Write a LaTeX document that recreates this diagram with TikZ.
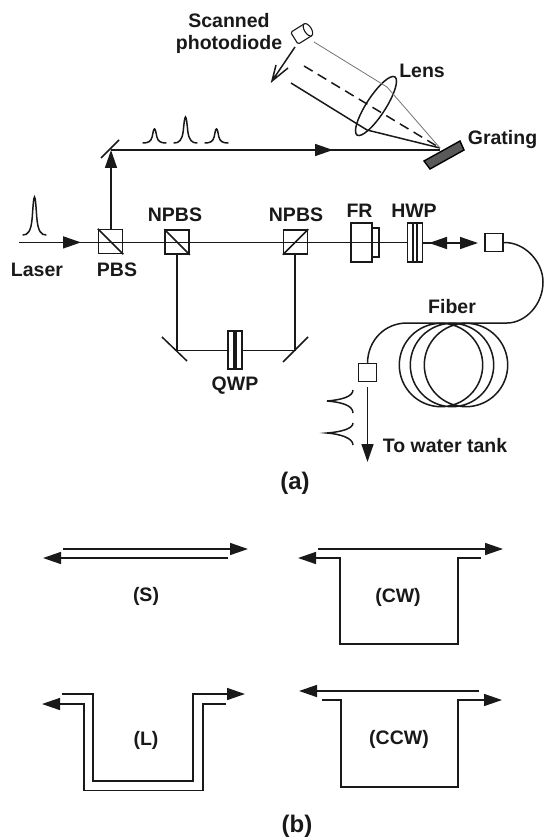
\documentclass[tikz,border=0pt]{standalone}
\usepackage{fontspec}
\setmainfont{Liberation Sans}
\usetikzlibrary{arrows.meta}
\tikzset{
 ln/.style={line width=1.5pt,black!90},
 thinln/.style={line width=1.1pt,black!90},
 arr/.style={ln,-{Triangle[length=18pt,width=12pt]}},
 lab/.style={font=\bfseries\fontsize{19.5}{22}\selectfont,inner sep=0pt,text=black!90},
 biglab/.style={font=\bfseries\fontsize{24}{26}\selectfont,inner sep=0pt,text=black!90},
 cube/.style={ln,draw,minimum width=24pt,minimum height=24pt,inner sep=0pt},
 sq/.style={ln,draw,minimum width=18pt,minimum height=18pt,inner sep=0pt},
}
\newcommand{\pulse}[3]{% left x, baseline y, height
 \begin{scope}[shift={(#1,#2)},yscale=#3]
 \draw[ln,line cap=round] (0,0) .. controls (5,0) and (8,-0.1) .. (9.2,-0.45) .. controls (10,-0.75) and (10.6,-1) .. (11.5,-1) .. controls (12.4,-1) and (13,-0.75) .. (13.8,-0.45) .. controls (15,-0.1) and (18,0) .. (23,0);
 \end{scope}}
\begin{document}
\begin{tikzpicture}[x=1pt,y=-1pt]
\useasboundingbox (0,0) rectangle (543,837);
% main line
\coordinate (start) at (19,242.4);
\node[cube] (pbs) at (110.5,241.5) {};
\node[cube] (np1) at (177,242) {};
\node[cube] (np2) at (295.5,242) {};
\node[draw,ln,minimum width=21pt,minimum height=39pt,inner sep=0pt] (fr) at (361.5,242.5) {};
\node[draw,ln,minimum width=7pt,minimum height=29pt,inner sep=0pt] (fr2) at (375.5,242.5) {};
\node[draw,thinln,minimum width=14.5pt,minimum height=39pt,inner sep=0pt] (hwp) at (415,242.5) {};
\draw[thinln] (413,223)--(413,262) (417,223)--(417,262);
\node[sq] (c1) at (494,242.5) {};
\node[sq] (c2) at (367.5,372.5) {};
\draw[ln] (start)--(hwp.west |- start);
\draw[arr] (60,242.4)--(81,242.4);
\draw[ln] (pbs.north west)--(pbs.south east) (np1.north west)--(np1.south east) (np2.south west)--(np2.north east);
\draw[ln] (hwp.east |- 0,243)--(440,243);
\draw[arr] (447,243)--(429,243);
\draw[arr] (445,243)--(478,243);
% upper branch
\coordinate (m1) at (111,150);
\coordinate (gr) at (440,148);
\draw[arr] (pbs.north -| m1)--(m1);
\draw[ln] (101,158)--(119,140);
\draw[ln] (m1)--(gr |- 0,150);
\draw[arr] (310,150)--(333,150);
\pulse{143}{143}{14}
\pulse{174}{143}{26}
\pulse{205}{143}{14}
\pulse{23}{235}{38}
% grating
\draw[line width=1.4pt,fill=black!65] (424,161)--(460,141)--(464,150)--(430,169)--cycle;
% lens & beams
\node[draw=none,inner sep=0pt] (lens) at (376,106) {};
\draw[ln] (lens) ellipse[x radius=9.5,y radius=34.7,rotate=-33];
\draw[ln] (291,83)--(367,130)--(gr);
\draw[ln,dash pattern=on 10pt off 6pt] (304,66)--(gr);
\draw[line width=0.8pt,black!55] (314,42)--(387,87)--(gr);
% photodiode
\begin{scope}[shift={(302,33.5)},rotate=32]
 \draw[thinln,rounded corners=1.5pt] (7,-7)--(-9,-7)--(-9,7)--(7,7);
 \draw[thinln,fill=white] (7,0) ellipse[x radius=3.5,y radius=7];
\end{scope}
\coordinate (sp1) at (295,47);
\coordinate (sp2) at (272,81);
\draw[ln] (sp1)--(sp2) (288,68)--(sp2)--(276,65);
% fiber
\draw[ln] (c1.east) .. controls (525,242) and (543,262) .. (543,282) .. controls (543,305) and (525,323) .. (507,323) -- (407,323) .. controls (385,323) and (368,340) .. (c2.north);
\draw[ln] (441,365) circle[radius=41.7] (452,365) circle[radius=41.7] (466,365) circle[radius=41.7];
\draw[arr] (367.5,387)--(367.5,462);
\draw[ln] (353,390) .. controls (353,397) and (340,400) .. (327,401) .. controls (340,402) and (353,405) .. (353,413);
\draw[ln] (353,423) .. controls (353,429) and (340,432) .. (327,433) .. controls (340,434) and (353,438) .. (353,445);
% QWP branch
\coordinate (m2) at (177,350.5);
\coordinate (m3) at (295,350.5);
\node[draw,thinln,minimum width=14pt,minimum height=38pt,inner sep=0pt] (qwp) at (235,350) {};
\draw[thinln] (234,331)--(234,369) (236,331)--(236,369);
\draw[ln] (np1.south)--(m2)--(qwp.west |- m2) (qwp.east |- m3)--(m3)--(np2.south -| m3);
\draw[ln] (162,337)--(187,361) (308,337)--(283,362);
% labels
\node[lab] (t1) at (229,21) {Scanned};
\node[lab] (t2) at (229,44) {photodiode};
\node[lab] (t3) at (422,71) {Lens};
\node[lab] (t4) at (502.5,140) {Grating};
\node[lab] (t5) at (175,214.5) {NPBS};
\node[lab] (t6) at (296,214.5) {NPBS};
\node[lab] (t7) at (359.5,211) {FR};
\node[lab] (t8) at (414,211) {HWP};
\node[lab] (t9) at (37,270) {Laser};
\node[lab] (t10) at (117,270) {PBS};
\node[lab] (t11) at (452,307) {Fiber};
\node[lab] (t12) at (445,446) {To water tank};
\node[lab] (t13) at (235,386) {QWP};
\node[biglab] (t14) at (295,483) {(a)};
\node[biglab] (t15) at (297,826) {(b)};
\node[lab] (t16) at (146,596.5) {(S)};
\node[lab] (t17) at (398,597) {(CW)};
\node[lab] (t18) at (146,740) {(L)};
\node[lab] (t19) at (399,739) {(CCW)};
% part b
\draw[arr] (63,549)--(248,549);
\draw[arr] (228,558)--(43,558);
\draw[arr] (318,549)--(503,549);
\draw[arr] (481,558)--(458,558)--(458,644)--(340,644)--(340,558)--(298,558);
\draw[arr] (62,694)--(93,694)--(93,781)--(193,781)--(193,694)--(245,694);
\draw[arr] (226,704)--(203,704)--(203,790.5)--(84,790.5)--(84,704)--(42,704);
\draw[arr] (479,691)--(299,691);
\draw[arr] (322,700)--(341,700)--(341,787)--(458,787)--(458,700)--(502,700);
\end{tikzpicture}
\end{document}
